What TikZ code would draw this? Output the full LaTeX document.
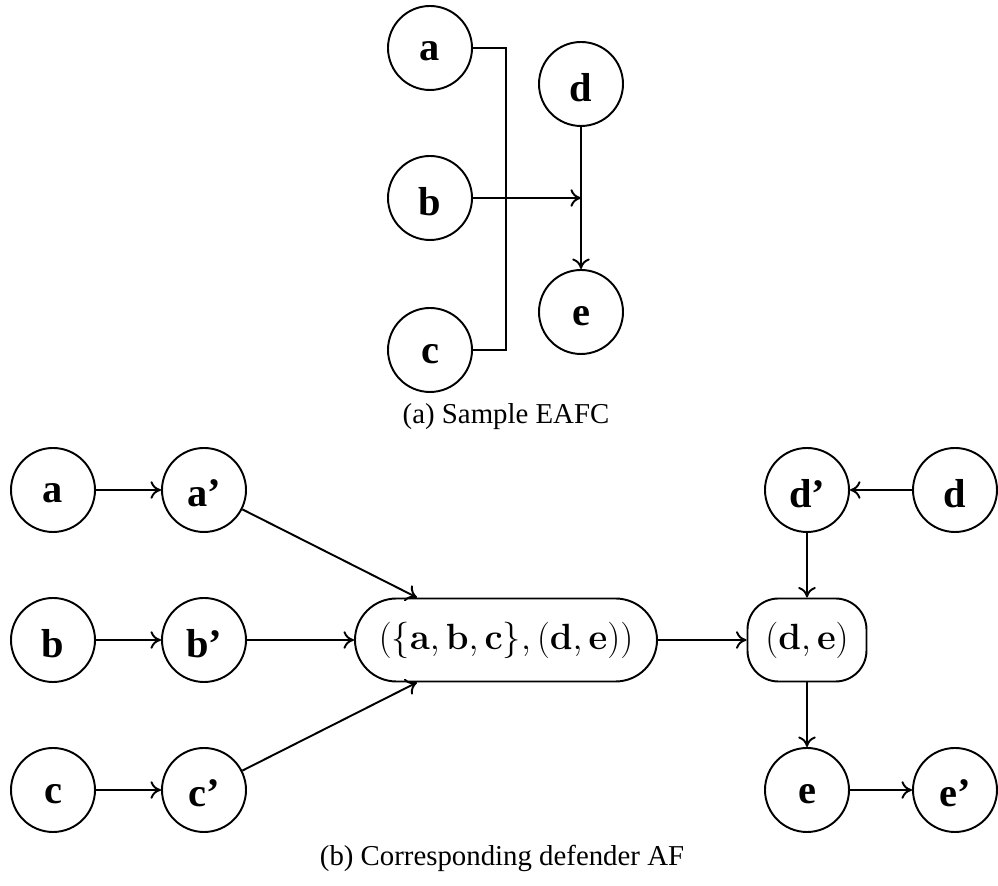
\documentclass[tikz,border=0pt]{standalone}
\usepackage[no-math]{fontspec}
\setmainfont{Liberation Serif}
\usetikzlibrary{arrows.meta,calc}
\newcommand\argtxt[1]{\raisebox{-2pt}[\height][0pt]{#1}}

\begin{document}
\begin{tikzpicture}[
      arg/.style={draw, circle, line width=1.1pt, minimum size=1.68cm, inner sep=0pt,
                  font=\fontsize{23}{27}\selectfont\bfseries},
      pair/.style={draw, line width=1.1pt, minimum height=1.66cm, inner sep=2pt,
                   font=\fontsize{19.7}{24}\selectfont},
      lnk/.style={line width=1.1pt},
      arr/.style={lnk, -{To[length=6pt,width=10pt]}},
      capt/.style={font=\fontsize{16.4}{20}\selectfont}]
    \useasboundingbox (0,0) rectangle (19.96,17.72);
    % (a) sample EAFC
    \node[arg] (ta) at (8.6,16.76)   {\argtxt{a}};
    \node[arg] (tb) at (8.6,13.76)   {\argtxt{b}};
    \node[arg] (tc) at (8.6,10.72)   {\argtxt{c}};
    \node[arg] (td) at (11.62,16.04) {\argtxt{d}};
    \node[arg] (te) at (11.62,11.48) {\argtxt{e}};
    \draw[lnk] (ta.east) -| (10.12,13.76) |- (tc.east);
    \draw[arr] (td) -- (te);
    \draw[arr] (tb.east) -- (td.center |- tb.east);
    \node[capt] (capa) at (10.12,9.38) {(a) Sample EAFC};
    % (b) corresponding defender AF
    \node[arg] (a)  at (1.06,7.92)  {\argtxt{a}};
    \node[arg] (a1) at (4.08,7.92)  {\argtxt{a'}};
    \node[arg] (b)  at (1.06,4.92)  {\argtxt{b}};
    \node[arg] (b1) at (4.08,4.92)  {\argtxt{b'}};
    \node[arg] (c)  at (1.06,1.92)  {\argtxt{c}};
    \node[arg] (c1) at (4.08,1.92)  {\argtxt{c'}};
    \node[pair, minimum width=6.04cm, rounded corners=0.83cm] (agg) at (10.12,4.92)
         {$(\{\mathbf{a},\mathbf{b},\mathbf{c}\},(\mathbf{d},\mathbf{e}))$};
    \node[pair, minimum width=2.38cm, rounded corners=0.62cm] (de) at (16.14,4.92)
         {$(\mathbf{d},\mathbf{e})$};
    \node[arg] (d1) at (16.14,7.92) {\argtxt{d'}};
    \node[arg] (d)  at (19.1,7.92)  {\argtxt{d}};
    \node[arg] (e)  at (16.14,1.92) {\argtxt{e}};
    \node[arg] (e1) at (19.1,1.92)  {\argtxt{e'}};
    \draw[arr] (a) -- (a1);
    \draw[arr] (b) -- (b1);
    \draw[arr] (c) -- (c1);
    \draw[arr] (a1) -- ([xshift=-1.78cm]agg.north);
    \draw[arr] (b1) -- (agg);
    \draw[arr] (c1) -- ([xshift=-1.78cm]agg.south);
    \draw[arr] (agg) -- (de);
    \draw[arr] (d) -- (d1);
    \draw[arr] (d1) -- (de);
    \draw[arr] (de) -- (e);
    \draw[arr] (e) -- (e1);
    \node[capt] (capb) at (10.04,0.56) {(b) Corresponding defender AF};
  \end{tikzpicture}
\end{document}
